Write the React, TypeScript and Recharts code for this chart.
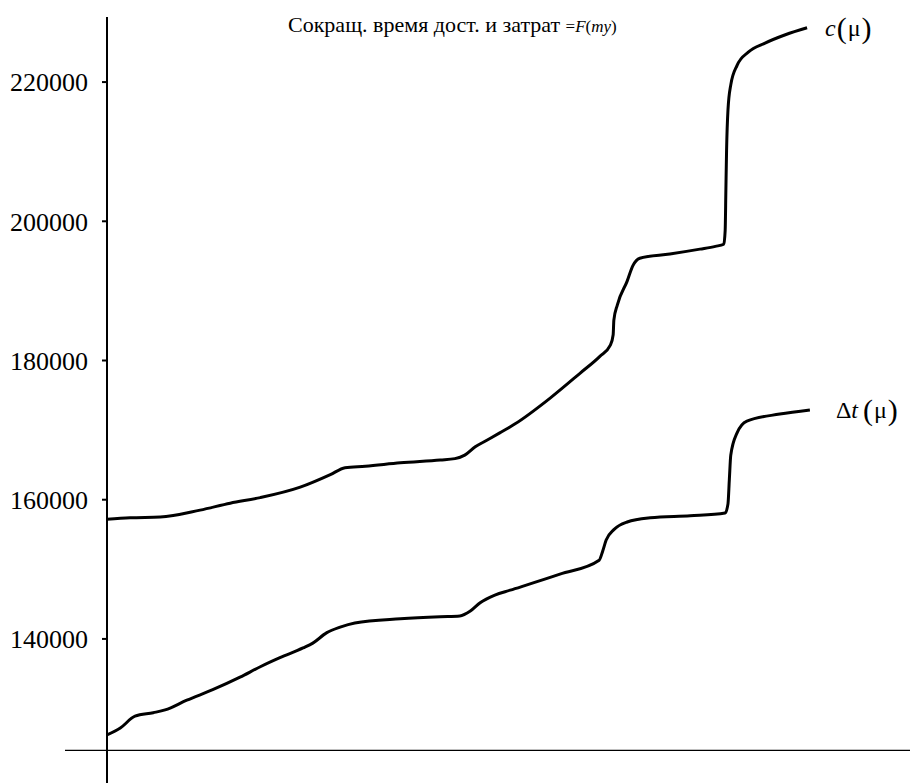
import React from 'react';
import { LineChart, Line, XAxis, YAxis, ReferenceLine } from 'recharts';

// μ positions (0 = y axis, 100 = right end of the curves)
const cX = [0, 3.3, 7.6, 13.3, 17.6, 21.9, 27.6, 31.9, 34, 36.9, 41.9, 47.6, 49.7, 51.1, 52.6, 54, 56.1, 58.3, 63.3, 67.6, 70.4, 71.9, 72.3, 72.4, 72.9, 74.3, 75.1, 76.1, 80.4, 84.7, 86.9, 88.1, 88.3, 88.4, 88.5, 88.7, 89.1, 90, 91.6, 94, 96.9, 100];
const cValues = [157200, 157400, 157500, 158500, 159500, 160300, 161800, 163600, 164600, 164800, 165300, 165700, 165900, 166400, 167600, 168400, 169600, 170900, 174600, 178200, 180600, 182200, 183700, 185800, 188000, 191400, 193600, 194700, 195300, 196000, 196400, 196700, 198700, 204500, 210200, 216000, 219600, 222400, 224300, 225600, 226800, 227800];

const dtX = [0, 1.9, 4, 6.6, 8.3, 11.4, 15.1, 19, 21.9, 24.7, 28, 29.4, 31.4, 33.3, 35.4, 41.9, 47.6, 50.4, 51.9, 53.3, 55.4, 57.6, 64.7, 70.3, 70.8, 71.3, 72.4, 74.3, 77.6, 83.3, 88.3, 88.7, 88.9, 89.1, 90, 91.4, 96.1, 100.4];
const dtValues = [126200, 127200, 128900, 129400, 129800, 131200, 132700, 134500, 136000, 137300, 138700, 139400, 140900, 141700, 142300, 142900, 143200, 143300, 144000, 145200, 146300, 147000, 149300, 151300, 152600, 154200, 155700, 156800, 157400, 157700, 158100, 159400, 163000, 166400, 169600, 171300, 172300, 172900];

const yTicks = [140000, 160000, 180000, 200000, 220000];
const AXIS_CROSS = 124000;

const cData = cX.map((x, i) => ({ x, value: cValues[i] }));
const dtData = dtX.map((x, i) => ({ x, value: dtValues[i] }));

const serif = 'Liberation Serif, Times New Roman, serif';

const seriesLabel = (name: 'c' | 'dt', last: number) => (props: any) => {
  const { x, y, index } = props;
  if (index !== last) return null;
  const dx = name === 'c' ? 18 : 26;
  return (
    <text x={x + dx} y={y + 8} fontFamily={serif} fill="#000">
      {name === 'dt' && <tspan fontSize={24}>Δ</tspan>}
      <tspan fontSize={24} fontStyle="italic">{name === 'c' ? 'c' : 't'}</tspan>
      <tspan fontSize={30} dx={name === 'c' ? 1 : 5} dy={2}>(</tspan>
      <tspan fontSize={24} dx={1} dy={-2}>μ</tspan>
      <tspan fontSize={30} dx={1} dy={2}>)</tspan>
    </text>
  );
};

export default function App() {
  return (
    <div style={{ position: 'absolute', left: 0, top: 0, width: 910, height: 783, background: '#fff' }}>
      <div
        style={{
          position: 'absolute',
          left: 288,
          top: 14,
          fontFamily: serif,
          fontSize: 22,
          lineHeight: 1,
          color: '#000',
          whiteSpace: 'nowrap',
          zIndex: 1,
        }}
      >
        Сокращ. время дост. и затрат{' '}
        <span style={{ fontSize: 17 }}>
          =<i>F</i>(<i>my</i>)
        </span>
      </div>
      <LineChart width={910} height={783} margin={{ top: 17, right: 0, bottom: 0, left: 0 }}>
        <XAxis type="number" dataKey="x" domain={[0, 114.7]} hide allowDataOverflow />
        <YAxis
          type="number"
          domain={[119300, 229350]}
          ticks={yTicks}
          interval={0}
          width={107}
          allowDataOverflow
          tickSize={5}
          tickMargin={14}
          axisLine={{ stroke: '#000', strokeWidth: 2 }}
          tickLine={{ stroke: '#000', strokeWidth: 2 }}
          tick={{ fill: '#000', fontSize: 26, fontFamily: serif }}
        />
        <ReferenceLine
          segment={[
            { x: -6, y: AXIS_CROSS },
            { x: 114.7, y: AXIS_CROSS },
          ]}
          stroke="#000"
          strokeWidth={1.3}
          ifOverflow="visible"
        />
        <Line
          data={cData}
          dataKey="value"
          type="monotone"
          stroke="#000"
          strokeWidth={3}
          dot={false}
          isAnimationActive={false}
          label={seriesLabel('c', cData.length - 1)}
        />
        <Line
          data={dtData}
          dataKey="value"
          type="monotone"
          stroke="#000"
          strokeWidth={3}
          dot={false}
          isAnimationActive={false}
          label={seriesLabel('dt', dtData.length - 1)}
        />
      </LineChart>
    </div>
  );
}
